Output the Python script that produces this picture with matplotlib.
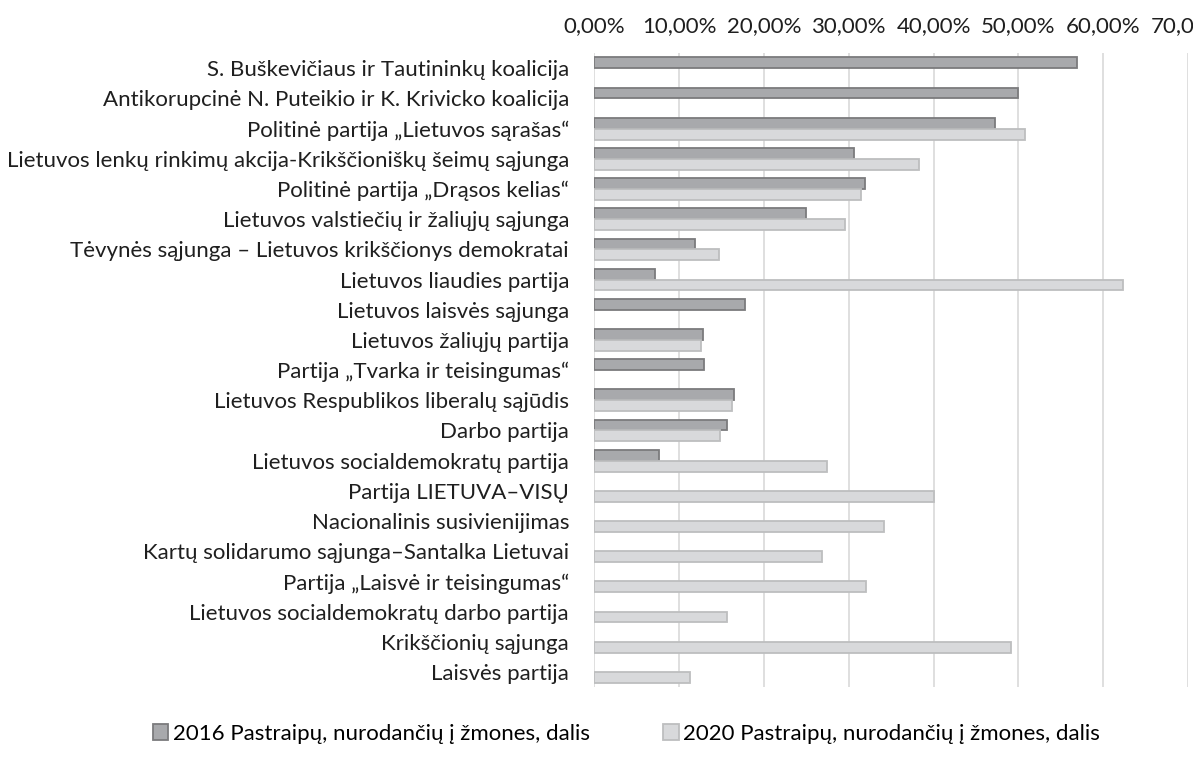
import matplotlib.pyplot as plt
import numpy as np
from matplotlib.ticker import FuncFormatter

parties = [
    "S. Buškevičiaus ir Tautininkų koalicija",
    "Antikorupcinė N. Puteikio ir K. Krivicko koalicija",
    "Politinė partija „Lietuvos sąrašas“",
    "Lietuvos lenkų rinkimų akcija-Krikščioniškų šeimų sąjunga",
    "Politinė partija „Drąsos kelias“",
    "Lietuvos valstiečių ir žaliųjų sąjunga",
    "Tėvynės sąjunga – Lietuvos krikščionys demokratai",
    "Lietuvos liaudies partija",
    "Lietuvos laisvės sąjunga",
    "Lietuvos žaliųjų partija",
    "Partija „Tvarka ir teisingumas“",
    "Lietuvos Respublikos liberalų sąjūdis",
    "Darbo partija",
    "Lietuvos socialdemokratų partija",
    "Partija LIETUVA–VISŲ",
    "Nacionalinis susivienijimas",
    "Kartų solidarumo sąjunga–Santalka Lietuvai",
    "Partija „Laisvė ir teisingumas“",
    "Lietuvos socialdemokratų darbo partija",
    "Krikščionių sąjunga",
    "Laisvės partija",
]

# share in %, nan = no bar
share_2016 = [56.9, 49.9, 47.2, 30.6, 31.9, 25.0, 11.9, 7.2, 17.8, 12.8, 12.9,
              16.5, 15.7, 7.7, np.nan, np.nan, np.nan, np.nan, np.nan, np.nan, np.nan]
share_2020 = [np.nan, np.nan, 50.8, 38.3, 31.5, 29.6, 14.7, 62.3, np.nan, 12.6, np.nan,
              16.3, 14.8, 27.4, 40.1, 34.2, 26.8, 32.0, 15.7, 49.1, 11.3]

label_2016 = "2016 Pastraipų, nurodančių į žmones, dalis"
label_2020 = "2020 Pastraipų, nurodančių į žmones, dalis"

plt.rcParams['font.family'] = ['Lato', 'DejaVu Sans']
fs = 16

fig = plt.figure(figsize=(11.93, 7.6), dpi=100)
ax = fig.add_axes([0.498, 0.096, 0.498, 0.834])

y = np.arange(len(parties))
h = 0.36
v16 = np.array(share_2016) / 100
v20 = np.array(share_2020) / 100
m16 = ~np.isnan(v16)
m20 = ~np.isnan(v20)

ax.barh(y[m16] - h / 2, v16[m16], height=h, color='#a8a9ac', edgecolor='#7b7b7d',
        linewidth=1.3, label=label_2016, zorder=3)
ax.barh(y[m20] + h / 2, v20[m20], height=h, color='#d8d9db', edgecolor='#bdbebf',
        linewidth=1.3, label=label_2020, zorder=3)

ax.set_xlim(0, 0.70)
ax.set_ylim(len(parties) - 0.5, -0.5)
ax.set_xticks(np.arange(0, 0.71, 0.1))
ax.xaxis.set_major_formatter(FuncFormatter(lambda v, p: f"{v * 100:.2f}%".replace('.', ',')))
ax.xaxis.tick_top()
ax.set_yticks(y)
ax.set_yticklabels(parties)
ax.tick_params(axis='both', length=0, labelsize=fs, colors='#1f1f1f')
ax.tick_params(axis='x', pad=12)
ax.tick_params(axis='y', pad=18)
ax.grid(axis='x', color='#d9d9d9', linewidth=1.2, zorder=0)
for s in ax.spines.values():
    s.set_visible(False)

fig.legend(loc='lower center', bbox_to_anchor=(0.525, -0.005), ncol=2, frameon=False,
           fontsize=fs, handlelength=0.7, handleheight=0.7, handletextpad=0.2,
           columnspacing=3.3)

plt.savefig("out.png", dpi=100)
plt.close("all")
